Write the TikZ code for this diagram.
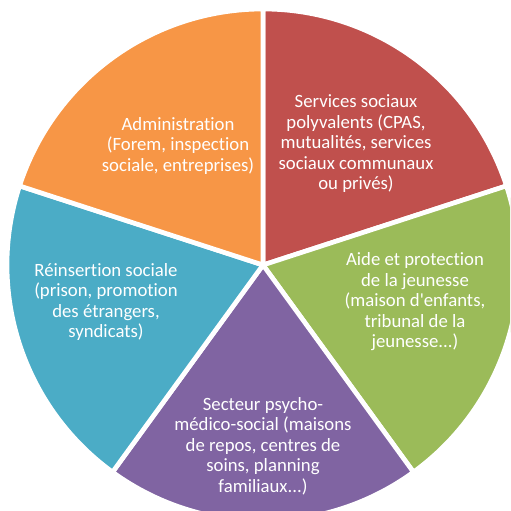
\documentclass[tikz,border=0pt]{standalone}
\usepackage{fontspec}
\setmainfont[Ligatures=NoCommon]{Carlito}
\usepackage{tikz}
\usepackage{xcolor}

\definecolor{pieorange}{HTML}{F79646}
\definecolor{piered}{HTML}{C0504D}
\definecolor{piegreen}{HTML}{9BBB59}
\definecolor{piepurple}{HTML}{8064A2}
\definecolor{pieblue}{HTML}{4BACC6}

\begin{document}
\begin{tikzpicture}[x=0.03cm, y=0.03cm,
		slice/.style={draw=white, line width=4pt, line join=round},
		sectorlabel/.style={text=white, align=center, font=\fontsize{16}{17.5}\selectfont}]
			\useasboundingbox (0, 0) rectangle (510, 511);
			\clip (0, 0) rectangle (510, 511);
			\coordinate (center) at (263, 246);
			
			% Slices
			\filldraw[slice, fill=piered] (center) -- ++(90:256) arc[start angle=90, end angle=18, radius=256] -- cycle;
			\filldraw[slice, fill=piegreen] (center) -- ++(18:256) arc[start angle=18, end angle=-54, radius=256] -- cycle;
			\filldraw[slice, fill=piepurple] (center) -- ++(-54:256) arc[start angle=-54, end angle=-126, radius=256] -- cycle;
			\filldraw[slice, fill=pieblue] (center) -- ++(-126:256) arc[start angle=-126, end angle=-198, radius=256] -- cycle;
			\filldraw[slice, fill=pieorange] (center) -- ++(162:256) arc[start angle=162, end angle=90, radius=256] -- cycle;
			
			% Labels
			\node[sectorlabel] (admin) at (178, 365) {Administration\\(Forem, inspection\\sociale, entreprises)};
			\node[sectorlabel] (services) at (356, 367) {Services sociaux\\polyvalents (CPAS,\\mutualités, services\\sociaux communaux\\ou privés)};
			\node[sectorlabel] (aide) at (415, 209) {Aide et protection\\de la jeunesse\\(maison d\textquotesingle enfants,\\tribunal de la\\jeunesse...)};
			\node[sectorlabel] (secteur) at (263, 65) {Secteur psycho-\\médico-social (maisons\\de repos, centres de\\soins, planning\\familiaux...)};
			\node[sectorlabel] (reinsertion) at (106, 209) {Réinsertion sociale\\(prison, promotion\\des étrangers,\\syndicats)};
		\end{tikzpicture}
\end{document}
